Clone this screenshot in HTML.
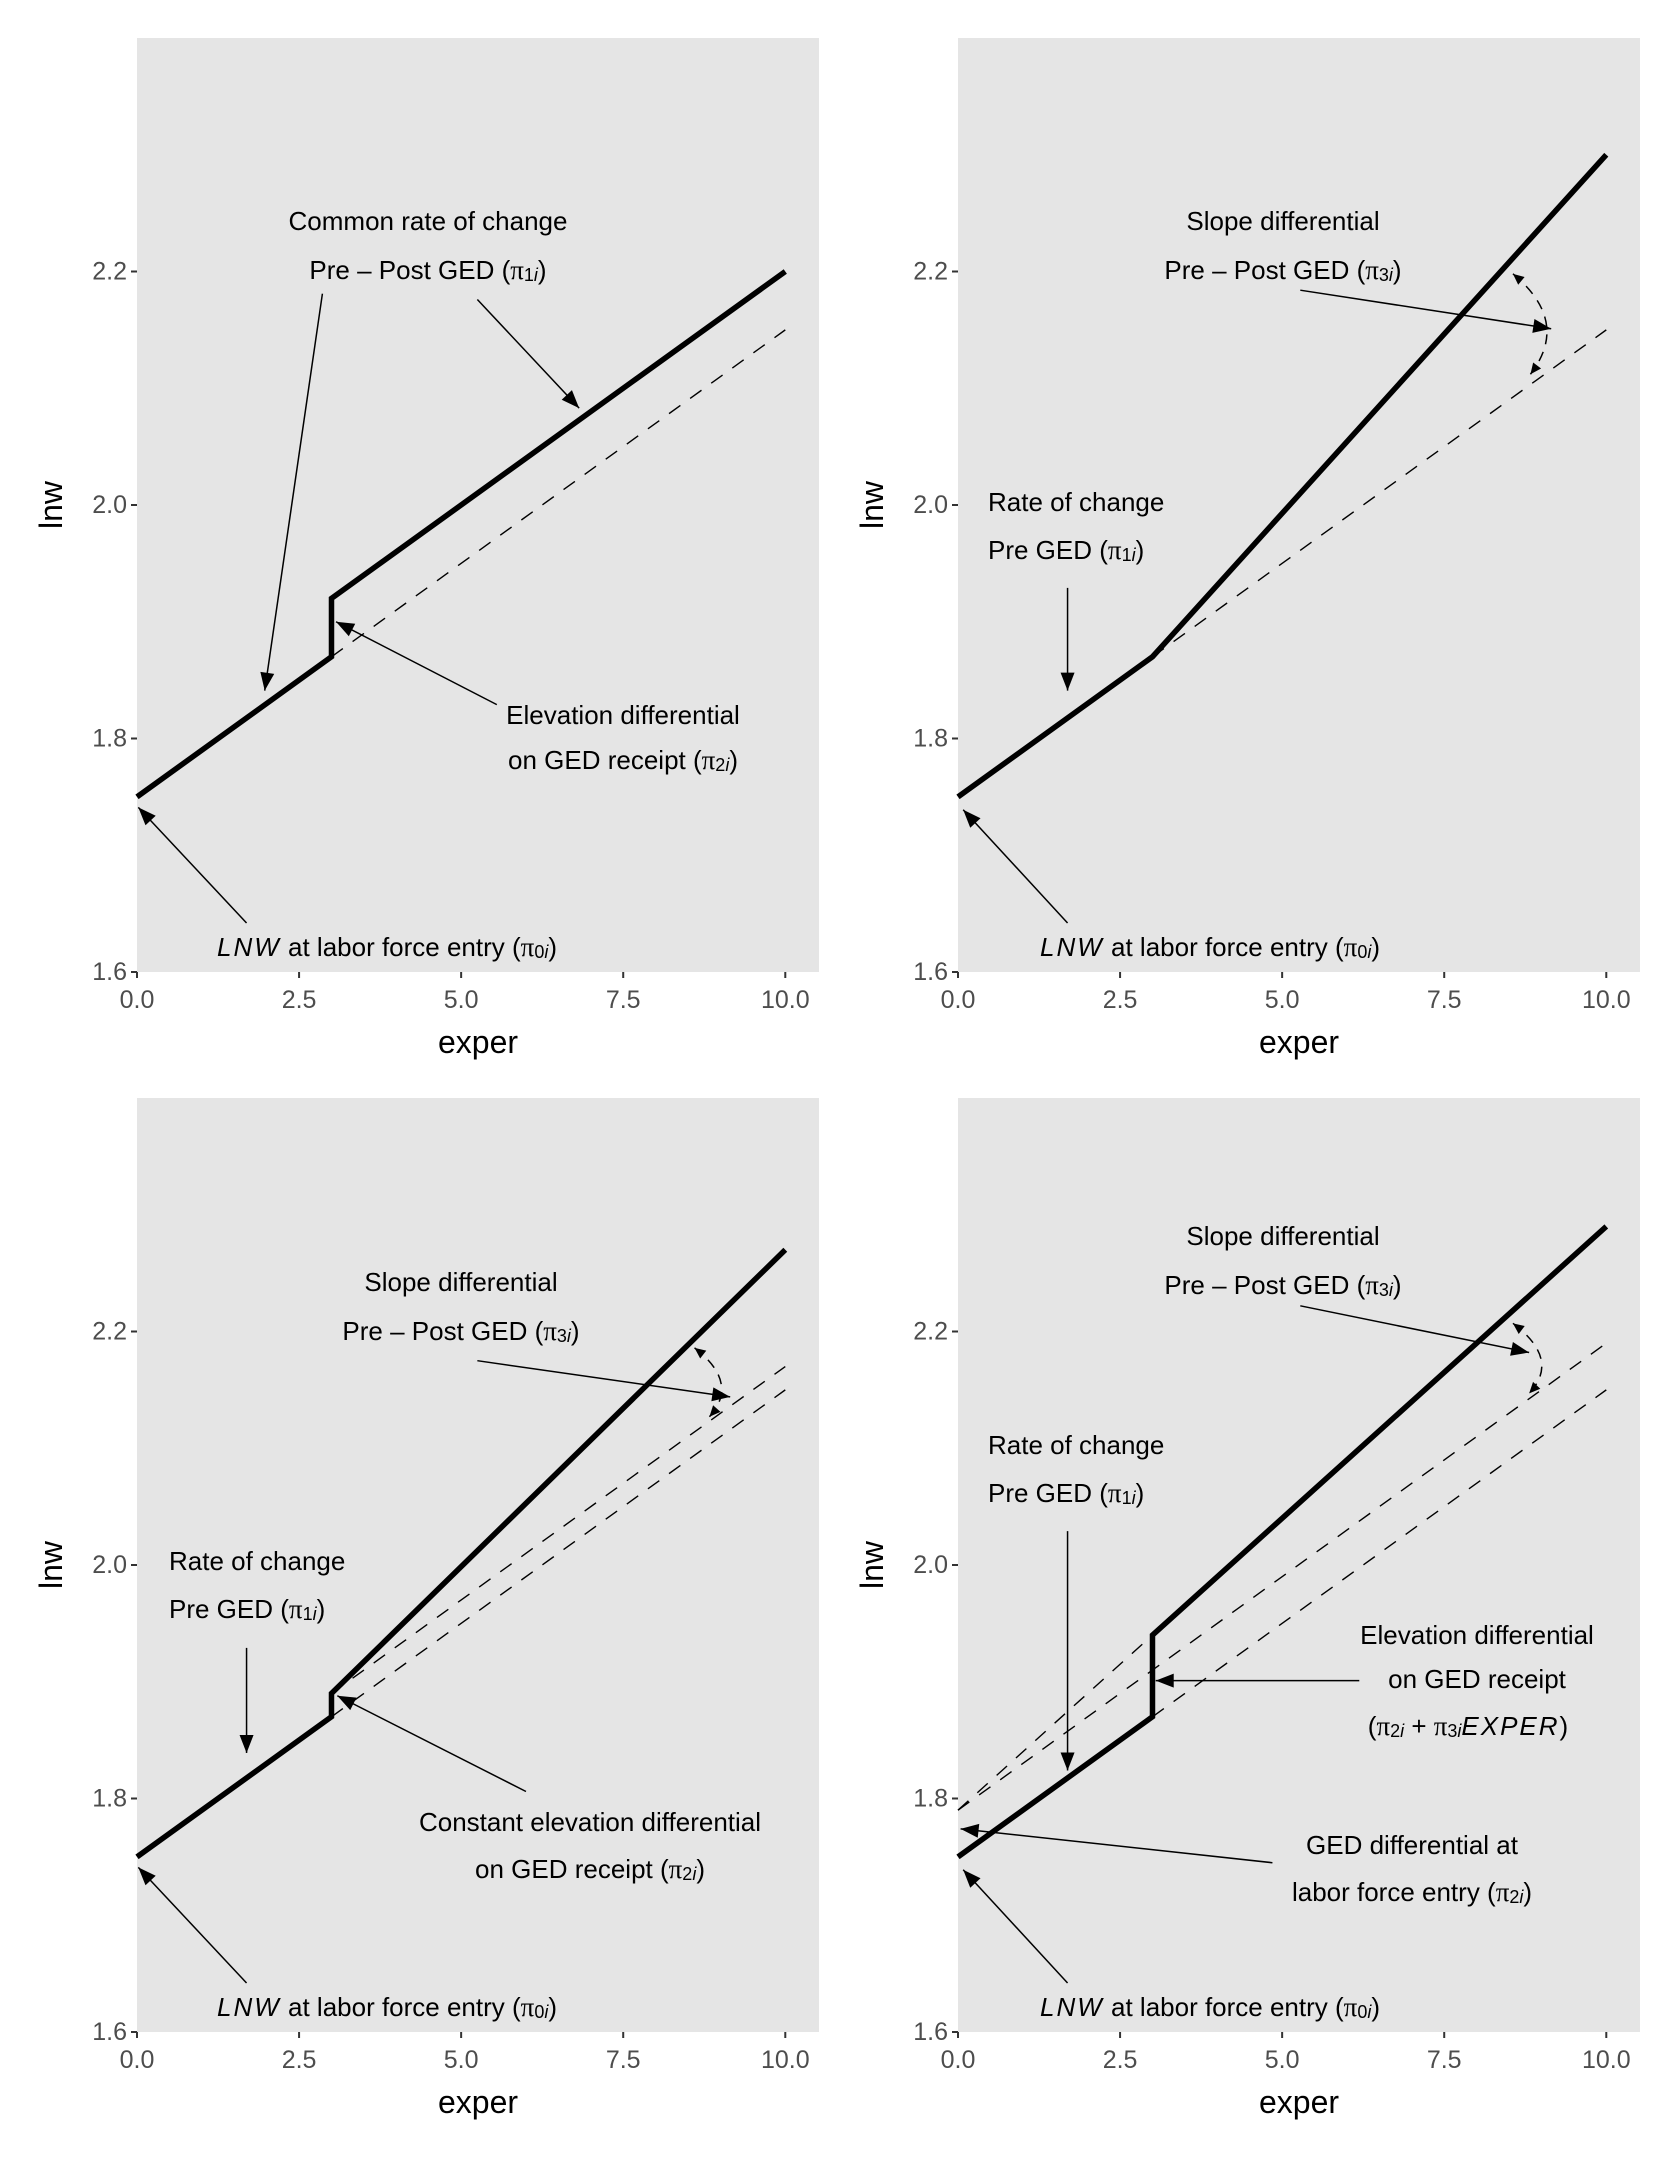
<!DOCTYPE html>
<html><head><meta charset="utf-8"><style>
html,body{margin:0;padding:0;background:#fff;}
svg{display:block;font-family:"Liberation Sans",sans-serif;}
.ann{font-size:26px;fill:#000;}
.pi{font-family:"Liberation Serif",serif;font-size:27px;}
</style></head><body>
<svg id="fig" width="1680" height="2160" viewBox="0 0 1680 2160">
<g id="texts">
<!-- panel 1 -->
<text class="ann" x="428" y="221" text-anchor="middle" dominant-baseline="central">Common rate of change</text>
<text class="ann" x="428" y="270" text-anchor="middle" dominant-baseline="central">Pre – Post GED (<tspan class="pi">π</tspan><tspan dy="5" font-size="18">1</tspan><tspan font-size="18" font-style="italic">i</tspan><tspan dy="-5">)</tspan></text>
<text class="ann" x="623" y="715" text-anchor="middle" dominant-baseline="central">Elevation differential</text>
<text class="ann" x="623" y="760" text-anchor="middle" dominant-baseline="central">on GED receipt (<tspan class="pi">π</tspan><tspan dy="5" font-size="18">2</tspan><tspan font-size="18" font-style="italic">i</tspan><tspan dy="-5">)</tspan></text>
<text class="ann" x="387" y="947" text-anchor="middle" dominant-baseline="central"><tspan font-style="italic" letter-spacing="2">LNW</tspan> at labor force entry (<tspan class="pi">π</tspan><tspan dy="5" font-size="18">0</tspan><tspan font-size="18" font-style="italic">i</tspan><tspan dy="-5">)</tspan></text>
<!-- panel 2 -->
<text class="ann" x="1283" y="221" text-anchor="middle" dominant-baseline="central">Slope differential</text>
<text class="ann" x="1283" y="270" text-anchor="middle" dominant-baseline="central">Pre – Post GED (<tspan class="pi">π</tspan><tspan dy="5" font-size="18">3</tspan><tspan font-size="18" font-style="italic">i</tspan><tspan dy="-5">)</tspan></text>
<text class="ann" x="988" y="502" dominant-baseline="central">Rate of change</text>
<text class="ann" x="988" y="550" dominant-baseline="central">Pre GED (<tspan class="pi">π</tspan><tspan dy="5" font-size="18">1</tspan><tspan font-size="18" font-style="italic">i</tspan><tspan dy="-5">)</tspan></text>
<text class="ann" x="1210" y="947" text-anchor="middle" dominant-baseline="central"><tspan font-style="italic" letter-spacing="2">LNW</tspan> at labor force entry (<tspan class="pi">π</tspan><tspan dy="5" font-size="18">0</tspan><tspan font-size="18" font-style="italic">i</tspan><tspan dy="-5">)</tspan></text>
<!-- panel 3 -->
<text class="ann" x="461" y="1282" text-anchor="middle" dominant-baseline="central">Slope differential</text>
<text class="ann" x="461" y="1331" text-anchor="middle" dominant-baseline="central">Pre – Post GED (<tspan class="pi">π</tspan><tspan dy="5" font-size="18">3</tspan><tspan font-size="18" font-style="italic">i</tspan><tspan dy="-5">)</tspan></text>
<text class="ann" x="169" y="1561" dominant-baseline="central">Rate of change</text>
<text class="ann" x="169" y="1609" dominant-baseline="central">Pre GED (<tspan class="pi">π</tspan><tspan dy="5" font-size="18">1</tspan><tspan font-size="18" font-style="italic">i</tspan><tspan dy="-5">)</tspan></text>
<text class="ann" x="590" y="1822" text-anchor="middle" dominant-baseline="central">Constant elevation differential</text>
<text class="ann" x="590" y="1869" text-anchor="middle" dominant-baseline="central">on GED receipt (<tspan class="pi">π</tspan><tspan dy="5" font-size="18">2</tspan><tspan font-size="18" font-style="italic">i</tspan><tspan dy="-5">)</tspan></text>
<text class="ann" x="387" y="2007" text-anchor="middle" dominant-baseline="central"><tspan font-style="italic" letter-spacing="2">LNW</tspan> at labor force entry (<tspan class="pi">π</tspan><tspan dy="5" font-size="18">0</tspan><tspan font-size="18" font-style="italic">i</tspan><tspan dy="-5">)</tspan></text>
<!-- panel 4 -->
<text class="ann" x="1283" y="1236" text-anchor="middle" dominant-baseline="central">Slope differential</text>
<text class="ann" x="1283" y="1285" text-anchor="middle" dominant-baseline="central">Pre – Post GED (<tspan class="pi">π</tspan><tspan dy="5" font-size="18">3</tspan><tspan font-size="18" font-style="italic">i</tspan><tspan dy="-5">)</tspan></text>
<text class="ann" x="988" y="1445" dominant-baseline="central">Rate of change</text>
<text class="ann" x="988" y="1493" dominant-baseline="central">Pre GED (<tspan class="pi">π</tspan><tspan dy="5" font-size="18">1</tspan><tspan font-size="18" font-style="italic">i</tspan><tspan dy="-5">)</tspan></text>
<text class="ann" x="1477" y="1635" text-anchor="middle" dominant-baseline="central">Elevation differential</text>
<text class="ann" x="1477" y="1679" text-anchor="middle" dominant-baseline="central">on GED receipt</text>
<text class="ann" x="1468" y="1726" text-anchor="middle" dominant-baseline="central">(<tspan class="pi">π</tspan><tspan dy="5" font-size="18">2</tspan><tspan font-size="18" font-style="italic">i</tspan><tspan dy="-5"> + </tspan><tspan class="pi">π</tspan><tspan dy="5" font-size="18">3</tspan><tspan font-size="18" font-style="italic">i</tspan><tspan dy="-5" font-style="italic" letter-spacing="2">EXPER</tspan>)</text>
<text class="ann" x="1412" y="1845" text-anchor="middle" dominant-baseline="central">GED differential at</text>
<text class="ann" x="1412" y="1892" text-anchor="middle" dominant-baseline="central">labor force entry (<tspan class="pi">π</tspan><tspan dy="5" font-size="18">2</tspan><tspan font-size="18" font-style="italic">i</tspan><tspan dy="-5">)</tspan></text>
<text class="ann" x="1210" y="2007" text-anchor="middle" dominant-baseline="central"><tspan font-style="italic" letter-spacing="2">LNW</tspan> at labor force entry (<tspan class="pi">π</tspan><tspan dy="5" font-size="18">0</tspan><tspan font-size="18" font-style="italic">i</tspan><tspan dy="-5">)</tspan></text>
</g>
</svg>
<script>
const xTicks = [0, 2.5, 5, 7.5, 10];
const xTickLabels = ["0.0", "2.5", "5.0", "7.5", "10.0"];
const yTicks = [1.6, 1.8, 2.0, 2.2];
const yTickLabels = ["1.6", "1.8", "2.0", "2.2"];

const p1SolidX = [0, 3, 3, 10];
const p1SolidY = [1.75, 1.87, 1.92, 2.2];
const p1DashX = [3, 10];
const p1DashY = [1.87, 2.15];

const p2SolidX = [0, 3, 10];
const p2SolidY = [1.75, 1.87, 2.3];
const p2DashX = [3, 10];
const p2DashY = [1.87, 2.15];

const p3SolidX = [0, 3, 3, 10];
const p3SolidY = [1.75, 1.87, 1.89, 2.27];
const p3DashAX = [3, 10];
const p3DashAY = [1.89, 2.17];
const p3DashBX = [3, 10];
const p3DashBY = [1.87, 2.15];

const p4SolidX = [0, 3, 3, 10];
const p4SolidY = [1.75, 1.87, 1.94, 2.29];
const p4DashAX = [0, 3];
const p4DashAY = [1.79, 1.94];
const p4DashBX = [0, 10];
const p4DashBY = [1.79, 2.19];
const p4DashCX = [3, 10];
const p4DashCY = [1.87, 2.15];

const p1Arrows = [[2.86,2.181,1.97,1.841],[5.25,2.176,6.82,2.083],[5.55,1.829,3.07,1.9],[1.69,1.642,0.02,1.741]];
const p2Arrows = [[5.28,2.184,9.15,2.151],[1.69,1.929,1.69,1.841],[1.69,1.642,0.08,1.739]];
const p3Arrows = [[5.25,2.175,9.15,2.144],[1.69,1.929,1.69,1.839],[6.0,1.806,3.09,1.888],[1.69,1.642,0.02,1.741]];
const p4Arrows = [[5.28,2.222,8.81,2.182],[1.69,2.029,1.69,1.824],[6.19,1.901,3.05,1.901],[4.85,1.745,0.04,1.774],[1.69,1.642,0.08,1.739]];
const p2Curve = [8.56,2.198,9.45,2.157,8.83,2.112];
const p3Curve = [8.6,2.186,9.3,2.156,8.83,2.127];
const p4Curve = [8.56,2.207,9.3,2.176,8.81,2.147];

const NS = "http://www.w3.org/2000/svg";
const svg = document.getElementById("fig");
const texts = document.getElementById("texts");

const panels = [
  {id:"p1", left:137, top:38, solid:[[p1SolidX,p1SolidY]], dash:[[p1DashX,p1DashY]], arrows:p1Arrows, curve:null},
  {id:"p2", left:958, top:38, solid:[[p2SolidX,p2SolidY]], dash:[[p2DashX,p2DashY]], arrows:p2Arrows, curve:p2Curve},
  {id:"p3", left:137, top:1098, solid:[[p3SolidX,p3SolidY]], dash:[[p3DashAX,p3DashAY],[p3DashBX,p3DashBY]], arrows:p3Arrows, curve:p3Curve},
  {id:"p4", left:958, top:1098, solid:[[p4SolidX,p4SolidY]], dash:[[p4DashAX,p4DashAY],[p4DashBX,p4DashBY],[p4DashCX,p4DashCY]], arrows:p4Arrows, curve:p4Curve}
];
const W = 682, H = 934, XMAX = 10.52, YMIN = 1.6, YMAX = 2.4;

function mk(tag, attrs, parent) {
  const e = document.createElementNS(NS, tag);
  for (const k in attrs) e.setAttribute(k, attrs[k]);
  (parent || svg).appendChild(e);
  return e;
}
function arrowHead(g, x1, y1, x2, y2, len, hw, name) {
  const a = Math.atan2(y2 - y1, x2 - x1);
  const bx = x2 - len * Math.cos(a), by = y2 - len * Math.sin(a);
  const px = -Math.sin(a) * hw, py = Math.cos(a) * hw;
  const h = mk("polygon", {points: x2+","+y2+" "+(bx+px)+","+(by+py)+" "+(bx-px)+","+(by-py), fill:"#000"}, g);
  
  
}

panels.forEach(function(p) {
  const X = function(v){ return p.left + v / XMAX * W; };
  const Y = function(v){ return p.top + H - (v - YMIN) / (YMAX - YMIN) * H; };
  const g = mk("g", {});
  
  
  svg.insertBefore(g, texts);
  const bg = mk("rect", {x:p.left, y:p.top, width:W, height:H, fill:"#e5e5e5"}, g);
  
  
  yTicks.forEach(function(t, i) {
    const tk = mk("line", {x1:p.left-6, x2:p.left, y1:Y(t), y2:Y(t), stroke:"#333", "stroke-width":2}, g);
    
    
    const lb = mk("text", {x:p.left-10, y:Y(t), "text-anchor":"end", "dominant-baseline":"central", "font-size":"25", fill:"#4d4d4d"}, g);
    lb.textContent = yTickLabels[i];
    
    
  });
  xTicks.forEach(function(t, i) {
    const tk = mk("line", {x1:X(t), x2:X(t), y1:p.top+H, y2:p.top+H+6, stroke:"#333", "stroke-width":2}, g);
    
    
    const lb = mk("text", {x:X(t), y:p.top+H+28, "text-anchor":"middle", "dominant-baseline":"central", "font-size":"25", fill:"#4d4d4d"}, g);
    lb.textContent = xTickLabels[i];
    
    
  });
  const xt = mk("text", {x:p.left+W/2, y:p.top+H+70, "text-anchor":"middle", "dominant-baseline":"central", "font-size":"32", fill:"#000"}, g);
  xt.textContent = "exper";
  
  
  const cy = p.top + H/2;
  const yt = mk("text", {x:p.left-86, y:cy, "text-anchor":"middle", "dominant-baseline":"central", "font-size":"32", fill:"#000", transform:"rotate(-90 "+(p.left-86)+" "+cy+")"}, g);
  yt.textContent = "lnw";
  
  
  p.dash.forEach(function(d) {
    const pts = d[0].map(function(x, i){ return X(x) + "," + Y(d[1][i]); }).join(" ");
    const l = mk("polyline", {points:pts, fill:"none", stroke:"#000", "stroke-width":1.4, "stroke-dasharray":"14 12"}, g);
    
    
  });
  p.solid.forEach(function(d) {
    const pts = d[0].map(function(x, i){ return X(x) + "," + Y(d[1][i]); }).join(" ");
    const l = mk("polyline", {points:pts, fill:"none", stroke:"#000", "stroke-width":5.5, "stroke-linejoin":"miter"}, g);
    
    
  });
  p.arrows.forEach(function(a) {
    const x1 = X(a[0]), y1 = Y(a[1]), x2 = X(a[2]), y2 = Y(a[3]);
    const l = mk("line", {x1:x1, y1:y1, x2:x2, y2:y2, stroke:"#000", "stroke-width":1.5}, g);
    
    
    arrowHead(g, x1, y1, x2, y2, 18, 7, p.id + '-arrow-head');
  });
  if (p.curve) {
    const c = p.curve;
    const sx = X(c[0]), sy = Y(c[1]), qx = X(c[2]), qy = Y(c[3]), ex = X(c[4]), ey = Y(c[5]);
    const path = mk("path", {d:"M"+sx+","+sy+" Q"+qx+","+qy+" "+ex+","+ey, fill:"none", stroke:"#000", "stroke-width":1.5, "stroke-dasharray":"10 8"}, g);
    
    
    arrowHead(g, qx, qy, sx, sy, 11, 5, p.id + '-curved-arrow-head-start');
    arrowHead(g, qx, qy, ex, ey, 11, 5, p.id + '-curved-arrow-head-end');
  }
});
</script>
</body></html>
